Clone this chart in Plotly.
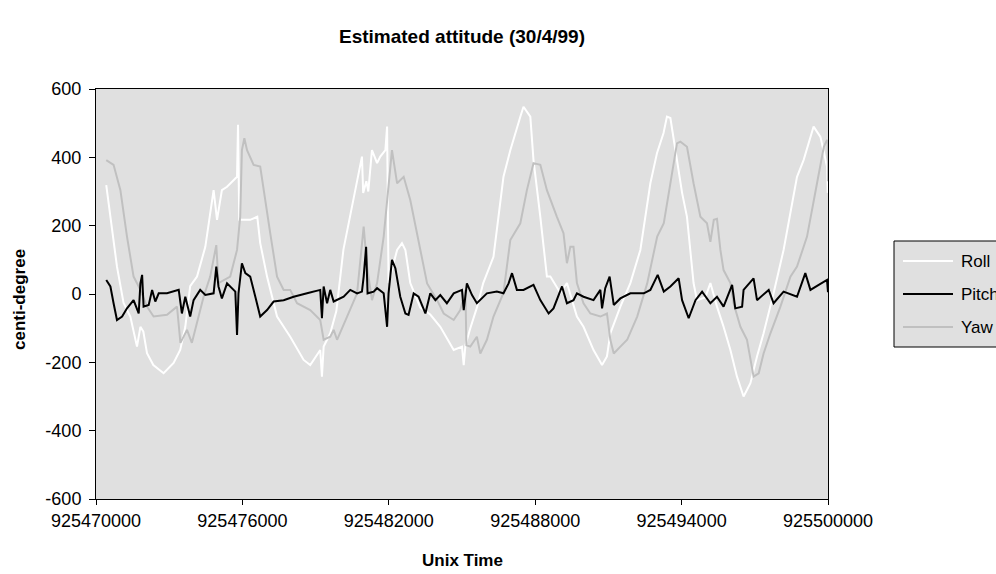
import plotly.graph_objects as go

# ---- data ----
roll_t = [925470420, 925470860, 925471130, 925471410, 925471680, 925471820, 925471940, 925472090,
          925472350, 925472770, 925473180, 925473450, 925473660, 925473860, 925474140, 925474480,
          925474820, 925474960, 925475160, 925475370, 925475780, 925475820, 925475870, 925476320,
          925476610, 925476730, 925477010, 925477420, 925477960, 925478510, 925478780, 925479190,
          925479260, 925479330, 925479600, 925479850, 925480140, 925480540, 925480900, 925480950,
          925481080, 925481160, 925481310, 925481520, 925481650, 925481860, 925481930, 925481990,
          925482340, 925482540, 925482680, 925482880, 925483290, 925483700, 925484110, 925484660,
          925485000, 925485070, 925485140, 925485340, 925485610, 925485870, 925486290, 925486700,
          925486980, 925487390, 925487520, 925487800, 925487930, 925488210, 925488480, 925488620,
          925489030, 925489300, 925489710, 925489980, 925490390, 925490740, 925490940, 925491080,
          925491490, 925491900, 925492310, 925492720, 925492990, 925493260, 925493400, 925493540,
          925493810, 925494020, 925494220, 925494490, 925494630, 925494970, 925495180, 925495450,
          925495720, 925496000, 925496270, 925496540, 925496820, 925497090, 925497360, 925497770,
          925498180, 925498730, 925499000, 925499410, 925499690, 925499960, 925499990]
roll_v = [319, 80, -26, -67, -154, -96, -110, -173,
          -208, -232, -202, -164, -96, 23, 51, 138,
          304, 217, 304, 314, 343, 495, 217, 217,
          226, 149, 51, -66, -125, -193, -208, -164,
          -242, -154, -115, -50, 130, 275, 402, 296,
          330, 300, 421, 383, 402, 421, 490, 32,
          129, 149, 129, 32, -40, -60, -96, -164,
          -154, -208, -150, -100, -40, 32, 109, 343,
          421, 519, 548, 519, 392, 226, 51, 51,
          3, 32, -66, -96, -164, -208, -183, -115,
          -37, 32, 129, 324, 412, 471, 519, 515,
          392, 296, 226, 32, -18, -10, 32, -37,
          -96, -164, -242, -300, -261, -183, -115, 2,
          129, 343, 392, 490, 460, 373, 296]

pitch_t = [925470420, 925470590, 925470720, 925470860, 925471070, 925471270, 925471540, 925471750,
           925471820, 925471890, 925471950, 925472160, 925472300, 925472430, 925472570, 925472910,
           925473390, 925473520, 925473660, 925473860, 925474000, 925474270, 925474480, 925474820,
           925474930, 925475020, 925475160, 925475370, 925475710, 925475780, 925475840, 925475980,
           925476120, 925476320, 925476530, 925476730, 925477010, 925477280, 925477690, 925478100,
           925478650, 925479190, 925479260, 925479330, 925479470, 925479600, 925479740, 925480150,
           925480420, 925480700, 925480900, 925480970, 925481070, 925481130, 925481380, 925481520,
           925481790, 925481930, 925481990, 925482130, 925482270, 925482470, 925482680, 925482810,
           925483020, 925483220, 925483500, 925483700, 925483910, 925484110, 925484380, 925484660,
           925485000, 925485070, 925485200, 925485410, 925485610, 925486020, 925486430, 925486700,
           925486910, 925487050, 925487250, 925487520, 925487930, 925488210, 925488550, 925488750,
           925489100, 925489300, 925489570, 925489710, 925489980, 925490390, 925490670, 925490740,
           925490870, 925491050, 925491220, 925491490, 925491900, 925492450, 925492720, 925493020,
           925493270, 925493540, 925493880, 925494020, 925494290, 925494570, 925494840, 925495180,
           925495450, 925495720, 925496070, 925496200, 925496480, 925496540, 925496950, 925497090,
           925497570, 925497770, 925498180, 925498730, 925499070, 925499280, 925499620, 925499960,
           925500000]
pitch_v = [41, 22, -27, -76, -66, -42, -18, -57,
           31, 56, -37, -32, 12, -22, 2, 2,
           12, -57, -8, -66, -18, 12, -3, 2,
           80, 22, -13, 31, 7, -120, 2, 90,
           61, 51, -8, -66, -47, -22, -18, -8,
           2, 12, -71, 22, -27, 12, -22, -8,
           12, 2, 7, 51, 138, 2, 7, 17,
           2, -96, 2, 100, 75, -8, -57, -61,
           2, -8, -57, 2, -18, -3, -27, 2,
           12, -47, 31, -3, -27, 2, 7, 2,
           31, 61, 12, 12, 27, -18, -57, -42,
           22, -27, -18, 2, -8, -18, 12, -42,
           17, 51, -32, -13, 2, 2, 12, 56,
           7, 22, 46, -18, -71, -18, 7, -27,
           -8, -37, 27, -42, -37, 12, 46, -18,
           12, -27, 7, -8, 61, 12, 27, 41,
           5]

yaw_t = [925470420, 925470720, 925471000, 925471270, 925471540, 925471820, 925472090, 925472360,
         925472910, 925473320, 925473460, 925473730, 925473930, 925474140, 925474410, 925474680,
         925474930, 925475020, 925475500, 925475780, 925475910, 925475980, 925476080, 925476190,
         925476460, 925476730, 925476870, 925477140, 925477420, 925477690, 925477960, 925478240,
         925478780, 925479190, 925479330, 925479600, 925479740, 925479880, 925480290, 925480700,
         925480970, 925481110, 925481310, 925481520, 925481790, 925481990, 925482130, 925482340,
         925482610, 925482880, 925483160, 925483430, 925483570, 925483980, 925484250, 925484660,
         925484930, 925485140, 925485180, 925485340, 925485610, 925485750, 925486020, 925486290,
         925486700, 925486980, 925487390, 925487660, 925487930, 925488210, 925488480, 925488890,
         925489160, 925489300, 925489440, 925489570, 925489710, 925489980, 925490260, 925490670,
         925490940, 925491080, 925491220, 925491490, 925491770, 925492180, 925492590, 925493000,
         925493270, 925493540, 925493810, 925493950, 925494220, 925494490, 925494770, 925495040,
         925495180, 925495320, 925495450, 925495590, 925495720, 925496000, 925496130, 925496410,
         925496680, 925496950, 925497160, 925497360, 925497640, 925498050, 925498460, 925498730,
         925499140, 925499550, 925499830, 925499960, 925499990, 925500000]
yaw_v = [392, 378, 304, 168, 51, 12, -37, -66,
         -61, -37, -143, -105, -143, -85, -8, 51,
         143, 32, 51, 129, 226, 421, 456, 421,
         378, 373, 304, 178, 51, 12, 12, -27,
         -47, -76, -134, -125, -105, -134, -66, 2,
         197, 80, -18, 32, 168, 324, 421, 324,
         343, 275, 178, 80, 31, -18, -57, -76,
         -47, 12, -150, -154, -125, -174, -134, -66,
         3, 158, 207, 304, 383, 378, 304, 226,
         178, 90, 138, 138, 32, -27, -57, -66,
         -57, -134, -174, -154, -134, -66, 31, 168,
         207, 324, 441, 446, 431, 324, 226, 207,
         153, 217, 220, 129, 70, 32, -27, -96,
         -134, -242, -232, -174, -115, -37, 51, 80,
         168, 324, 431, 451, 441, 330]

x_ticks = [925470000, 925476000, 925482000, 925488000, 925494000, 925500000]
y_ticks = [-600, -400, -200, 0, 200, 400, 600]

series_names = ["Roll", "Pitch", "Yaw"]
series_colors = {"Roll": "#ffffff", "Pitch": "#000000", "Yaw": "#c0c0c0"}

FONT = "Liberation Sans, Arial, sans-serif"
BG = "#e0e0e0"

# plot-area geometry (pixels) used for placing the legend box
L, R, T, B = 96, 828, 89, 499
W = R - L
H = B - T
def px(x):
    return (x - L) / W
def py(y):
    return (B - y) / H

fig = go.Figure()
fig.add_trace(go.Scatter(x=roll_t, y=roll_v, name="Roll", mode="lines",
                         line=dict(color=series_colors["Roll"], width=2)))
fig.add_trace(go.Scatter(x=yaw_t, y=yaw_v, name="Yaw", mode="lines",
                         line=dict(color=series_colors["Yaw"], width=2)))
fig.add_trace(go.Scatter(x=pitch_t, y=pitch_v, name="Pitch", mode="lines",
                         line=dict(color=series_colors["Pitch"], width=2)))

# legend box drawn in paper space so that it runs off the right edge like the original
shapes = [dict(type="rect", xref="paper", yref="paper", x0=px(894), x1=px(1010),
               y0=py(347), y1=py(241), fillcolor=BG, line=dict(color="#000000", width=1),
               layer="above")]
annotations = []
item_y = [261, 294, 327]
for name, yy in zip(series_names, item_y):
    shapes.append(dict(type="line", xref="paper", yref="paper", x0=px(903), x1=px(953),
                       y0=py(yy), y1=py(yy), line=dict(color=series_colors[name], width=2),
                       layer="above"))
    annotations.append(dict(text=name, xref="paper", yref="paper", x=px(959), y=py(yy),
                            xanchor="left", yanchor="middle", showarrow=False,
                            font=dict(size=17)))

annotations += [
    dict(text="<b>Unix Time</b>", xref="paper", yref="paper", x=0.5, y=py(560),
         xanchor="center", yanchor="middle", showarrow=False, font=dict(size=17)),
    dict(text="<b>centi-degree</b>", xref="paper", yref="paper", x=px(19),
         y=py(300), xanchor="center", yanchor="middle", showarrow=False,
         textangle=-90, font=dict(size=17)),
]

fig.update_layout(
    width=996, height=574,
    margin=dict(l=L, r=996 - R, t=T, b=574 - B, autoexpand=False),
    paper_bgcolor="#ffffff", plot_bgcolor=BG,
    font=dict(family=FONT, size=18, color="#000000"),
    title=dict(text="<b>Estimated attitude (30/4/99)</b>", x=462/996, xanchor="center",
               y=1 - 36/574, yanchor="middle", font=dict(size=19, family=FONT)),
    showlegend=False,
    xaxis=dict(range=[925470000, 925500000], tickvals=x_ticks,
               ticktext=[str(v) for v in x_ticks],
               showgrid=False, zeroline=False, showline=True, linecolor="#000000",
               linewidth=1, mirror=True, ticks="outside", ticklen=5, tickcolor="#000000",
               tickfont=dict(size=18)),
    yaxis=dict(range=[-600, 600], tickvals=y_ticks,
               ticktext=[str(v) for v in y_ticks],
               showgrid=False, zeroline=False, showline=True, linecolor="#000000",
               linewidth=1, mirror=True, ticks="outside", ticklen=6, tickcolor="#000000",
               tickfont=dict(size=18), ticklabelstandoff=4),
    shapes=shapes,
    annotations=annotations,
)

fig.write_html("out.html", config={"displayModeBar": False},
               post_script="document.body.style.margin='0';document.body.style.overflow='hidden';")
